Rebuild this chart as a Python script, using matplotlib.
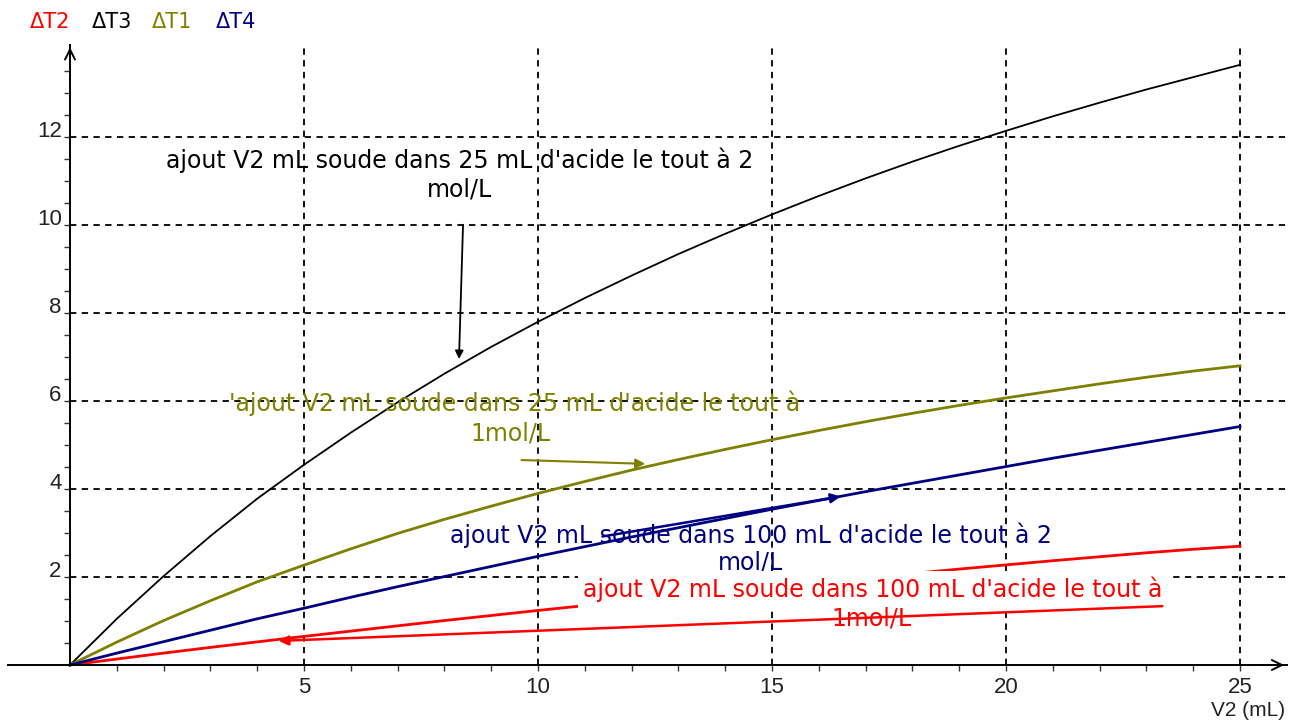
import matplotlib
matplotlib.use("Agg")
import matplotlib.pyplot as plt
import numpy as np

# ---- data ----
v2 = list(range(0, 26))
dT3 = [0, 1.05, 2.02, 2.93, 3.78, 4.55, 5.28, 5.97, 6.62, 7.23, 7.80, 8.34, 8.85,
       9.34, 9.80, 10.24, 10.66, 11.06, 11.44, 11.80, 12.14, 12.47, 12.78, 13.08,
       13.36, 13.64]                                   # 25 mL acid, 2 mol/L
dT1 = [0, 0.52, 1.01, 1.46, 1.89, 2.27, 2.64, 2.99, 3.31, 3.61, 3.90, 4.17, 4.43,
       4.67, 4.90, 5.12, 5.33, 5.53, 5.72, 5.90, 6.07, 6.23, 6.39, 6.54, 6.68,
       6.80]                                           # 25 mL acid, 1 mol/L
dT4 = [0, 0.27, 0.53, 0.79, 1.05, 1.29, 1.54, 1.78, 2.01, 2.24, 2.47, 2.69, 2.91,
       3.12, 3.33, 3.54, 3.74, 3.94, 4.13, 4.32, 4.51, 4.70, 4.88, 5.06, 5.24,
       5.42]                                           # 100 mL acid, 2 mol/L
dT2 = [0, 0.135, 0.27, 0.40, 0.525, 0.65, 0.77, 0.89, 1.01, 1.125, 1.24, 1.35,
       1.46, 1.57, 1.675, 1.78, 1.88, 1.985, 2.08, 2.18, 2.275, 2.37, 2.46, 2.55,
       2.63, 2.70]                                     # 100 mL acid, 1 mol/L

series_names = ["ΔT2", "ΔT3", "ΔT1", "ΔT4"]
series_colors = ["#FF0000", "#000000", "#808000", "#000080"]

x_major = [5, 10, 15, 20, 25]
y_major = [2, 4, 6, 8, 10, 12]

W, H = 1290, 722
fig = plt.figure(figsize=(W / 100, H / 100), dpi=100)

x0px, y0px = 70, 665          # pixel of data origin
sx, sy = 46.8, 44.0           # pixels per unit
xmin, xmax = -1.32, 26.0
ymin, ymax = 0.0, 14.1
left = (x0px + xmin * sx) / W
width = (xmax - xmin) * sx / W
bottom = (H - y0px) / H
height = (ymax - ymin) * sy / H
ax = fig.add_axes([left, bottom, width, height])
ax.set_xlim(xmin, xmax)
ax.set_ylim(ymin, ymax)

# spines / axes
ax.spines['top'].set_visible(False)
ax.spines['right'].set_visible(False)
ax.spines['left'].set_position(('data', 0))
ax.spines['left'].set_linewidth(1.4)
ax.spines['bottom'].set_linewidth(1.4)

ax.set_xticks(x_major)
ax.set_xticks(np.arange(1, 26, 1), minor=True)
ax.set_yticks(y_major)
ax.set_yticks(np.arange(0.5, 14.0, 0.5), minor=True)
ax.tick_params(axis='both', which='both', direction='out', length=4.5, width=1.0, color='#333333')
ax.tick_params(axis='x', which='major', pad=4, labelsize=16)
ax.tick_params(axis='y', which='major', pad=1.5, labelsize=16)
for lab in ax.get_xticklabels() + ax.get_yticklabels():
    lab.set_fontfamily('Liberation Sans')
    lab.set_color('#222222')
for lab in ax.get_yticklabels():
    lab.set_va('baseline')

# grid (starting at the axes, not beyond)
dash = (0, (3.5, 3))
ax.vlines(x_major, 0, ymax, colors='black', lw=1.3, linestyles=[dash], zorder=1)
ax.hlines(y_major, 0, xmax, colors='black', lw=1.3, linestyles=[dash], zorder=1)

# axis arrows
ax.annotate('', xy=(xmax, 0), xytext=(xmax - 0.6, 0), xycoords='data',
            arrowprops=dict(arrowstyle='->', lw=1.4, color='black', mutation_scale=18),
            annotation_clip=False)
ax.annotate('', xy=(0, ymax), xytext=(0, ymax - 0.6), xycoords='data',
            arrowprops=dict(arrowstyle='->', lw=1.4, color='black', mutation_scale=18),
            annotation_clip=False)

# curves
ax.plot(v2, dT2, color=series_colors[0], lw=2.0, zorder=2, clip_on=False)
ax.plot(v2, dT3, color=series_colors[1], lw=1.3, zorder=2, clip_on=False)
ax.plot(v2, dT1, color=series_colors[2], lw=2.0, zorder=2, clip_on=False)
ax.plot(v2, dT4, color=series_colors[3], lw=2.0, zorder=2, clip_on=False)

# annotations
fs = 17
fam = 'DejaVu Sans'
ax.text(8.33, 11.48, "ajout V2 mL soude dans 25 mL d'acide le tout à 2", color='black',
        fontsize=fs, family=fam, ha='center', va='center', zorder=3)
ax.text(8.33, 10.80, "mol/L", color='black', fontsize=fs, family=fam, ha='center', va='center', zorder=3)
ax.annotate('', xy=(8.31, 6.89), xytext=(8.40, 10.07),
            arrowprops=dict(arrowstyle='-|>', lw=1.3, color='black', mutation_scale=12), zorder=4)

ax.text(9.49, 5.95, "'ajout V2 mL soude dans 25 mL d'acide le tout à", color='#808000',
        fontsize=fs, family=fam, ha='center', va='center', zorder=3)
ax.text(9.42, 5.27, "1mol/L", color='#808000', fontsize=fs, family=fam, ha='center', va='center', zorder=3)
ax.annotate('', xy=(12.35, 4.57), xytext=(9.59, 4.66),
            arrowprops=dict(arrowstyle='-|>', lw=1.5, color='#808000', mutation_scale=14), zorder=4)

ax.text(14.55, 2.95, "ajout V2 mL soude dans 100 mL d'acide le tout à 2", color='#000080',
        fontsize=fs, family=fam, ha='center', va='center', zorder=3)
ax.text(14.55, 2.32, "mol/L", color='#000080', fontsize=fs, family=fam, ha='center', va='center', zorder=3)
ax.annotate('', xy=(16.52, 3.84), xytext=(11.32, 2.91),
            arrowprops=dict(arrowstyle='-|>', lw=1.8, color='#000080', mutation_scale=14), zorder=4)

ax.text(17.16, 1.72, "ajout V2 mL soude dans 100 mL d'acide le tout à", color='#FF0000',
        fontsize=fs, family=fam, ha='center', va='center', zorder=3,
        bbox=dict(facecolor='white', edgecolor='none', pad=4))
ax.text(17.12, 1.05, "1mol/L", color='#FF0000', fontsize=fs, family=fam, ha='center', va='center', zorder=3)
ax.annotate('', xy=(4.40, 0.545), xytext=(23.4, 1.34),
            arrowprops=dict(arrowstyle='-|>', lw=1.8, color='#FF0000', mutation_scale=14), zorder=4)

# legend-like labels at top
leg_x = [50, 112, 172, 236]
for name, col, xp in zip(series_names, series_colors, leg_x):
    fig.text(xp / W, 1 - 22 / H, name, color=col, fontsize=15, family=fam,
             ha='center', va='center')

# x-axis title
fig.text(1285 / W, 1 - 710 / H, "V2 (mL)", color='#222222', fontsize=15,
         family='Liberation Sans', ha='right', va='center')

fig.savefig("out.png", dpi=100)
